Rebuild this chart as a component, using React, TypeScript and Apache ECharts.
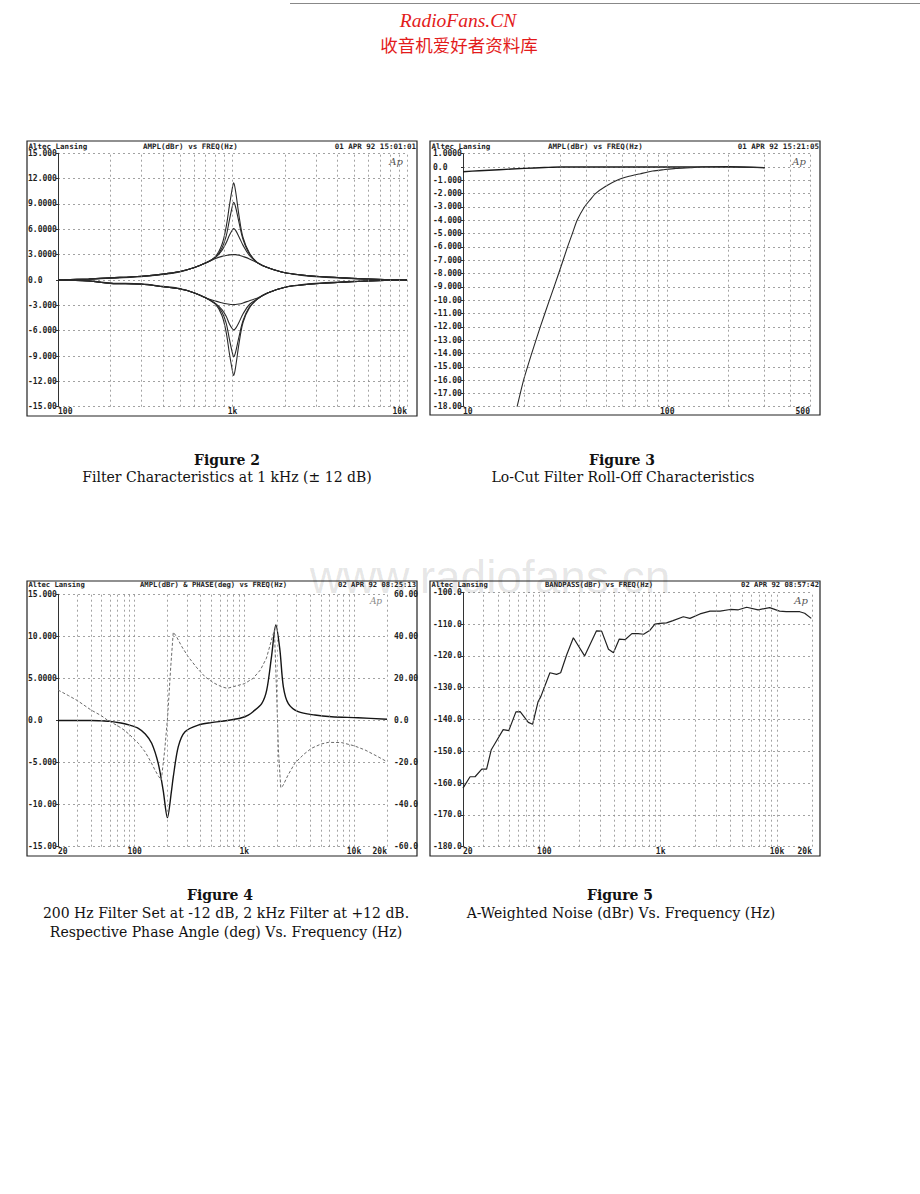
import React, { useEffect, useRef } from "react";
import * as echarts from "echarts";

// ---------- Figure 2 : filter characteristics at 1 kHz ----------
const fig2Freq = [100, 150, 200, 300, 400, 500, 600, 700, 800, 870, 920, 960, 1000, 1015, 1040, 1090, 1150, 1250, 1400, 1600, 2000, 2500, 3000, 4000, 6000, 10000];
const fig2Boost115 = [0.0, 0.12, 0.25, 0.45, 0.7, 1.0, 1.45, 2.0, 2.8, 4.2, 6.3, 8.8, 11.0, 11.5, 10.6, 7.6, 5.0, 3.2, 2.0, 1.45, 0.85, 0.6, 0.45, 0.3, 0.12, 0.0];
const fig2Boost92 = [0.0, 0.12, 0.25, 0.45, 0.7, 1.0, 1.45, 2.0, 2.7, 3.8, 5.2, 7.1, 8.8, 9.2, 8.7, 6.8, 4.8, 3.1, 2.0, 1.45, 0.85, 0.6, 0.45, 0.3, 0.12, 0.0];
const fig2Boost61 = [0.0, 0.12, 0.25, 0.45, 0.7, 1.0, 1.45, 2.0, 2.7, 3.5, 4.4, 5.3, 5.95, 6.1, 5.9, 5.1, 4.1, 2.9, 2.0, 1.45, 0.85, 0.6, 0.45, 0.3, 0.12, 0.0];
const fig2Boost30 = [0.0, 0.1, 0.2, 0.4, 0.65, 0.95, 1.45, 2.0, 2.55, 2.8, 2.9, 2.97, 3.0, 3.0, 3.0, 2.93, 2.78, 2.5, 2.0, 1.45, 0.85, 0.55, 0.4, 0.25, 0.1, 0.0];
const fig2Cut113 = [0.0, -0.12, -0.4, -0.5, -0.8, -1.07, -1.5, -2.1, -2.9, -4.2, -6.2, -8.7, -10.8, -11.3, -10.4, -7.5, -5.0, -3.3, -2.2, -1.5, -0.85, -0.6, -0.45, -0.3, -0.12, 0.0];
const fig2Cut91 = [0.0, -0.12, -0.4, -0.5, -0.8, -1.07, -1.5, -2.1, -2.8, -3.8, -5.1, -7.0, -8.7, -9.1, -8.6, -6.7, -4.8, -3.2, -2.2, -1.5, -0.85, -0.6, -0.45, -0.3, -0.12, 0.0];
const fig2Cut59 = [0.0, -0.12, -0.4, -0.5, -0.8, -1.07, -1.5, -2.1, -2.8, -3.5, -4.3, -5.2, -5.8, -5.9, -5.75, -5.0, -4.0, -2.9, -2.2, -1.5, -0.85, -0.6, -0.45, -0.3, -0.12, 0.0];
const fig2Cut29 = [0.0, -0.1, -0.35, -0.45, -0.75, -1.0, -1.5, -2.1, -2.5, -2.7, -2.82, -2.88, -2.9, -2.9, -2.9, -2.85, -2.72, -2.45, -2.1, -1.5, -0.85, -0.55, -0.4, -0.25, -0.1, 0.0];
const fig2YTicks = [15, 12, 9, 6, 3, 0, -3, -6, -9, -12, -15];
const fig2YLabels = ["15.000", "12.000", "9.0000", "6.0000", "3.0000", "0.0", "-3.000", "-6.000", "-9.000", "-12.00", "-15.00"];
const fig2XTicks = [100.01, 1000, 9999.9];
const fig2XLabels = ["100", "1k", "10k"];
const fig2Grid = [200, 300, 400, 500, 600, 700, 800, 900, 1000, 2000, 3000, 4000, 5000, 6000, 7000, 8000, 9000, 10000];

// ---------- Figure 3 : lo-cut roll-off ----------
const fig3FlatFreq = [10, 12, 15, 20, 25, 30, 50, 100, 200, 300];
const fig3Flat = [-0.35, -0.28, -0.2, -0.1, -0.04, 0, 0, 0, 0.02, -0.05];
const fig3RollFreq = [18.4, 19.8, 21.7, 23.9, 26.5, 29.4, 32.5, 34.3, 36.2, 39.3, 42, 44.5, 50, 56.8, 65, 74, 85, 96, 110, 130, 150, 200, 300];
const fig3Roll = [-18.0, -16.0, -14.0, -12.0, -10.0, -8.0, -6.0, -5.0, -4.0, -3.0, -2.45, -2.0, -1.45, -1.0, -0.7, -0.5, -0.3, -0.2, -0.1, -0.05, 0, 0, -0.05];
const fig3YTicks = [1, 0, -1, -2, -3, -4, -5, -6, -7, -8, -9, -10, -11, -12, -13, -14, -15, -16, -17, -18];
const fig3YLabels = ["1.0000", "0.0", "-1.000", "-2.000", "-3.000", "-4.000", "-5.000", "-6.000", "-7.000", "-8.000", "-9.000", "-10.00", "-11.00", "-12.00", "-13.00", "-14.00", "-15.00", "-16.00", "-17.00", "-18.00"];
const fig3XTicks = [10.001, 100, 499.99];
const fig3XLabels = ["10", "100", "500"];
const fig3Grid = [20, 30, 40, 50, 60, 70, 80, 90, 100, 200, 300, 400, 500];

// ---------- Figure 4 : amplitude & phase ----------
const fig4AmpFreq = [20, 30, 40, 50, 60, 75, 90, 108, 125, 143, 164, 182, 199, 217, 225, 250, 288, 380, 500, 700, 946, 1086, 1200, 1440, 1600, 1770, 1940, 2110, 2270, 2520, 3100, 4400, 6250, 10900, 20000];
const fig4Amp = [0, 0, 0, -0.05, -0.1, -0.3, -0.55, -0.93, -1.6, -2.7, -5.1, -8.3, -11.55, -8.3, -6.7, -3.1, -1.33, -0.54, -0.25, 0.0, 0.33, 0.65, 1.05, 2.0, 3.6, 7.6, 11.35, 8.4, 4.0, 2.0, 1.05, 0.65, 0.45, 0.33, 0.15];
const fig4PhFreq = [20, 25, 30, 40, 50, 57, 70, 80, 90, 108, 125, 140, 153, 165, 175, 188, 200, 213, 225, 240, 270, 308, 370, 438, 520, 621, 700, 850, 1000, 1200, 1400, 1590, 1770, 1880, 1950, 2050, 2150, 2250, 2500, 2890, 3500, 4100, 5000, 5820, 7700, 10000, 12600, 16000, 20000];
const fig4Phase = [14.5, 11.8, 9.5, 5.0, 2.2, 0, -2.5, -4.5, -6.8, -10.8, -15, -19.5, -23.5, -26.5, -28.3, -14, 2, 25, 42, 40, 35, 30.3, 25, 20.8, 18, 16, 15.3, 16.5, 17.5, 20, 24, 29.6, 38.3, 43, 20, -15, -32, -31, -26, -20.3, -16, -13.2, -11.2, -10.4, -10.5, -12, -14, -16.8, -19.6];
const fig4YTicks = [15, 10, 5, 0, -5, -10, -15];
const fig4YLabels = ["15.000", "10.000", "5.0000", "0.0", "-5.000", "-10.00", "-15.00"];
const fig4RTicks = [60, 40, 20, 0, -20, -40, -60];
const fig4RLabels = ["60.00", "40.00", "20.00", "0.0", "-20.0", "-40.0", "-60.0"];
const fig4XTicks = [20.001, 100, 1000, 10000, 19999.9];
const fig4XLabels = ["20", "100", "1k", "10k", "20k"];
const audioGrid = [30, 40, 50, 60, 70, 80, 90, 100, 200, 300, 400, 500, 600, 700, 800, 900, 1000, 2000, 3000, 4000, 5000, 6000, 7000, 8000, 9000, 10000, 20000];

// ---------- Figure 5 : A-weighted noise ----------
const fig5Freq = [20, 23, 25.4, 29, 31.9, 35, 39, 44.3, 49.5, 57, 62, 72.9, 79.3, 88.4, 93.3, 111.7, 127.5, 138.2, 155.5, 177.7, 222, 281, 311, 356, 393, 441, 494, 566, 640, 713, 810, 892, 987, 1124, 1277, 1567, 1786, 2177, 2659, 3245, 3961, 4662, 5490, 6886, 8651, 10530, 12000, 15700, 17300, 19700];
const fig5Noise = [-161.6, -158.0, -158.0, -155.6, -155.6, -149.5, -146.6, -143.2, -143.5, -137.6, -137.5, -140.9, -141.5, -134.4, -132.8, -125.3, -125.8, -125.3, -119.7, -114.3, -120.0, -112.1, -112.2, -117.9, -119.0, -114.7, -114.9, -113.0, -113.0, -113.2, -111.9, -110.0, -109.8, -109.6, -108.9, -107.7, -108.2, -106.8, -105.9, -105.9, -105.4, -105.5, -104.7, -105.5, -104.8, -105.9, -106.1, -106.1, -106.6, -108.2];
const fig5YTicks = [-100, -110, -120, -130, -140, -150, -160, -170, -180];
const fig5YLabels = ["-100.0", "-110.0", "-120.0", "-130.0", "-140.0", "-150.0", "-160.0", "-170.0", "-180.0"];

const MONO = "'DejaVu Sans Mono', monospace";
const SERIF = "'DejaVu Serif', serif";
const INK = "#1e1e1e";
const GRIDC = "#8a8a8a";

function pairs(xs: number[], ys: number[]) {
  return xs.map((x, i) => [x, ys[i]]);
}
function yFmt(ticks: number[], labels: string[]) {
  return (v: number) => {
    const i = ticks.findIndex((t) => Math.abs(t - v) < 1e-6);
    return i >= 0 ? labels[i] : "";
  };
}
function xFmt(ticks: number[], labels: string[]) {
  return (v: number) => {
    let best = 0;
    let bd = Infinity;
    ticks.forEach((t, i) => {
      const d = Math.abs(Math.log10(v / t));
      if (d < bd) { bd = d; best = i; }
    });
    return bd < 0.02 ? labels[best] : "";
  };
}
function vGrid(vals: number[]) {
  return {
    silent: true,
    symbol: ["none", "none"],
    label: { show: false },
    lineStyle: { type: [2, 3], color: GRIDC, width: 0.8 },
    data: vals.map((v) => ({ xAxis: v })),
  };
}
function xAxisDef(gridIndex: number, min: number, max: number, ticks: number[], labels: string[]) {
  return {
    type: "log",
    logBase: 10,
    gridIndex,
    min,
    max,
    axisLine: { show: false },
    axisTick: { show: false },
    splitLine: { show: false },
    minorSplitLine: { show: false },
    axisLabel: {
      customValues: ticks,
      formatter: xFmt(ticks, labels),
      fontFamily: MONO,
      fontWeight: "bold",
      fontSize: 8,
      color: INK,
      margin: 1,
      alignMinLabel: "left",
      alignMaxLabel: "right",
    },
  };
}
function yAxisDef(gridIndex: number, min: number, max: number, interval: number, ticks: number[], labels: string[], margin: number, extra: any = {}) {
  return {
    type: "value",
    gridIndex,
    min,
    max,
    interval,
    axisLine: { show: true, lineStyle: { color: "#333", width: 1 } },
    axisTick: { show: true, inside: false, length: 2, lineStyle: { color: "#333" } },
    splitLine: { show: true, lineStyle: { type: [2, 3], color: GRIDC, width: 0.8 } },
    axisLabel: {
      formatter: yFmt(ticks, labels),
      fontFamily: MONO,
      fontWeight: "bold",
      fontSize: 8,
      color: INK,
      align: "left",
      margin,
    },
    ...extra,
  };
}
function line(name: string, xi: number, yi: number, data: number[][], color: string, width: number, smooth: number | boolean, extra: any = {}) {
  return {
    name,
    type: "line",
    xAxisIndex: xi,
    yAxisIndex: yi,
    data,
    symbol: "none",
    showSymbol: false,
    smooth,
    lineStyle: { color, width },
    silent: true,
    ...extra,
  };
}
function txt(text: string, x: number, y: number, opts: any = {}) {
  return {
    type: "text",
    x,
    y,
    silent: true,
    z: opts.z ?? 10,
    style: {
      text,
      fill: opts.fill ?? INK,
      fontFamily: opts.fontFamily ?? MONO,
      fontSize: opts.fontSize ?? 7.5,
      fontWeight: opts.fontWeight ?? "bold",
      fontStyle: opts.fontStyle ?? "normal",
      align: opts.align ?? "left",
      verticalAlign: opts.verticalAlign ?? "middle",
      opacity: opts.opacity ?? 1,
    },
  };
}
function frame(x: number, y: number, w: number, h: number) {
  return {
    type: "rect",
    shape: { x, y, width: w, height: h },
    silent: true,
    style: { fill: "none", stroke: "#222", lineWidth: 1.2 },
    z: 5,
  };
}
const capFig = { fontFamily: SERIF, fontSize: 14, fontWeight: "bold", align: "center", fill: "#111" };
const capTxt = { fontFamily: SERIF, fontSize: 14, fontWeight: "normal", align: "center", fill: "#111" };
const apLogo = { fontFamily: SERIF, fontStyle: "italic", fontWeight: "normal", fontSize: 10, fill: "#555", align: "center" };
const lowHead = { fontSize: 7.2 };

export default function App() {
  const ref = useRef<HTMLDivElement>(null);
  useEffect(() => {
    document.body.style.margin = "0";
    const chart = echarts.init(ref.current!, null, { renderer: "svg" });
    const option: any = {
      animation: false,
      backgroundColor: "#ffffff",
      grid: [
        { left: 58, top: 153.3, width: 349, height: 253.4 },
        { left: 463, top: 153.7, width: 347, height: 253 },
        { left: 58, top: 594.3, width: 329, height: 252.4 },
        { left: 463, top: 592.3, width: 349, height: 254.4 },
      ],
      xAxis: [
        xAxisDef(0, 100, 10000, fig2XTicks, fig2XLabels),
        xAxisDef(1, 10, 500, fig3XTicks, fig3XLabels),
        xAxisDef(2, 20, 20000, fig4XTicks, fig4XLabels),
        xAxisDef(3, 20, 20000, fig4XTicks, fig4XLabels),
      ],
      yAxis: [
        yAxisDef(0, -15, 15, 3, fig2YTicks, fig2YLabels, 30),
        yAxisDef(1, -18, 1, 1, fig3YTicks, fig3YLabels, 30),
        yAxisDef(2, -15, 15, 5, fig4YTicks, fig4YLabels, 30),
        yAxisDef(2, -60, 60, 20, fig4RTicks, fig4RLabels, 7, {
          position: "right",
          axisLine: { show: false },
          axisTick: { show: false },
          splitLine: { show: false },
        }),
        yAxisDef(3, -180, -100, 10, fig5YTicks, fig5YLabels, 30),
      ],
      series: [
        line("+11.5 dB", 0, 0, pairs(fig2Freq, fig2Boost115), "#2a2a2a", 1.1, 0.35, { markLine: vGrid(fig2Grid) }),
        line("+9.2 dB", 0, 0, pairs(fig2Freq, fig2Boost92), "#2a2a2a", 1.1, 0.35),
        line("+6.1 dB", 0, 0, pairs(fig2Freq, fig2Boost61), "#2a2a2a", 1.1, 0.35),
        line("+3.0 dB", 0, 0, pairs(fig2Freq, fig2Boost30), "#2a2a2a", 1.1, 0.35),
        line("-2.9 dB", 0, 0, pairs(fig2Freq, fig2Cut29), "#2a2a2a", 1.1, 0.35),
        line("-5.9 dB", 0, 0, pairs(fig2Freq, fig2Cut59), "#2a2a2a", 1.1, 0.35),
        line("-9.1 dB", 0, 0, pairs(fig2Freq, fig2Cut91), "#2a2a2a", 1.1, 0.35),
        line("-11.3 dB", 0, 0, pairs(fig2Freq, fig2Cut113), "#2a2a2a", 1.1, 0.35),
        line("Flat", 1, 1, pairs(fig3FlatFreq, fig3Flat), "#1a1a1a", 1.4, 0.3, { markLine: vGrid(fig3Grid) }),
        line("Lo-Cut", 1, 1, pairs(fig3RollFreq, fig3Roll), "#2a2a2a", 1.1, 0.2),
        line("AMPL", 2, 2, pairs(fig4AmpFreq, fig4Amp), "#151515", 1.4, 0.3, { markLine: vGrid(audioGrid) }),
        line("PHASE", 2, 3, pairs(fig4PhFreq, fig4Phase), "#6a6a6a", 1, false, { lineStyle: { color: "#6a6a6a", width: 1, type: [3, 2] } }),
        line("BANDPASS", 3, 4, pairs(fig5Freq, fig5Noise), "#222", 1.2, false, { markLine: vGrid(audioGrid) }),
      ],
      graphic: [
        { type: "line", shape: { x1: 290, y1: 3.5, x2: 920, y2: 3.5 }, style: { stroke: "#888", lineWidth: 1 }, silent: true },
        txt("RadioFans.CN", 458, 20, { fontFamily: "'Liberation Serif', serif", fontStyle: "italic", fontWeight: "normal", fontSize: 19.5, fill: "#e31b1b", align: "center" }),
        txt("收音机爱好者资料库", 459, 44, { fontFamily: "'Noto Sans CJK SC', sans-serif", fontWeight: "normal", fontSize: 17.5, fill: "#e31b1b", align: "center" }),

        frame(27, 141, 390, 275),
        frame(430, 141, 390, 274),
        frame(27, 581, 390, 275),
        frame(430, 581, 390, 275),

        txt("Altec Lansing", 28.5, 146),
        txt("AMPL(dBr) vs FREQ(Hz)", 143, 146),
        txt("01 APR 92 15:01:01", 416, 146, { align: "right" }),
        txt("Ap", 396, 161, apLogo),

        txt("Altec Lansing", 431.5, 146),
        txt("AMPL(dBr) vs FREQ(Hz)", 548, 146),
        txt("01 APR 92 15:21:05", 819, 146, { align: "right" }),
        txt("Ap", 799, 161, apLogo),

        txt("Altec Lansing", 28.5, 584, lowHead),
        txt("AMPL(dBr) & PHASE(deg) vs FREQ(Hz)", 140, 584, lowHead),
        txt("02 APR 92 08:25:13", 416, 584, { ...lowHead, align: "right" }),
        txt("Ap", 376, 601, { ...apLogo, fontSize: 9, fill: "#888" }),

        txt("Altec Lansing", 431.5, 584, lowHead),
        txt("BANDPASS(dBr) vs FREQ(Hz)", 545, 584, lowHead),
        txt("02 APR 92 08:57:42", 819, 584, { ...lowHead, align: "right" }),
        txt("Ap", 801, 600, apLogo),

        txt("Figure 2", 227, 460, capFig),
        txt("Filter Characteristics at 1 kHz (± 12 dB)", 227, 477, capTxt),
        txt("Figure 3", 622, 460, capFig),
        txt("Lo-Cut Filter Roll-Off Characteristics", 623, 477, capTxt),
        txt("Figure 4", 220, 895, capFig),
        txt("200 Hz Filter Set at -12 dB, 2 kHz Filter at +12 dB.", 226, 913, capTxt),
        txt("Respective Phase Angle (deg) Vs. Frequency (Hz)", 226, 932, capTxt),
        txt("Figure 5", 620, 895, capFig),
        txt("A-Weighted Noise (dBr) Vs. Frequency (Hz)", 621, 913, capTxt),

        txt("www.radiofans.cn", 490, 577, { fontFamily: "'Liberation Sans', sans-serif", fontSize: 46, fontWeight: "normal", align: "center", fill: "#000", opacity: 0.1, z: 50 }),
      ],
    };
    chart.setOption(option);
    return () => chart.dispose();
  }, []);
  return <div ref={ref} style={{ position: "absolute", left: 0, top: 0, width: 920, height: 1194, background: "#fff" }} />;
}
